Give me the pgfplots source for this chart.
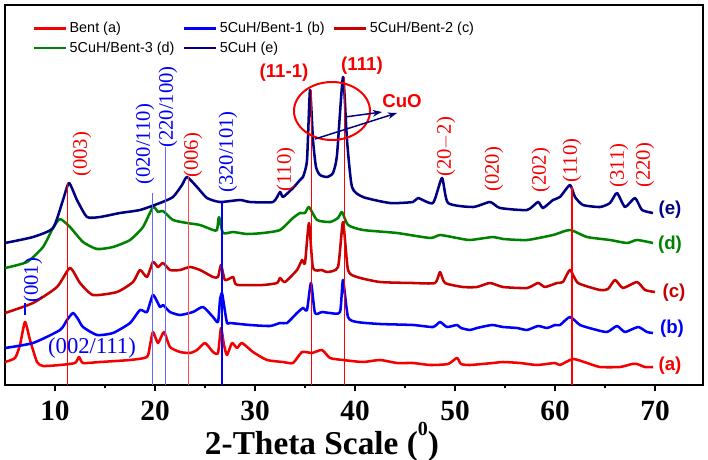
\documentclass[border=0pt]{standalone}
\usepackage{fontspec}
\setmainfont{Liberation Serif}
\newfontfamily\arial{Liberation Sans}
\usepackage{pgfplots}
\pgfplotsset{compat=1.18}
\usetikzlibrary{arrows.meta}

\definecolor{cA}{RGB}{245,0,0}
\definecolor{cB}{RGB}{0,0,250}
\definecolor{cC}{RGB}{200,0,0}
\definecolor{cD}{RGB}{0,130,0}
\definecolor{cE}{RGB}{0,0,130}
\definecolor{lblRed}{RGB}{245,0,0}
\definecolor{lblBlue}{RGB}{0,0,245}

\begin{document}
\begin{tikzpicture}
\useasboundingbox (0,0) rectangle (531pt,345pt);
\begin{axis}[
  at={(3.75pt,56.25pt)}, anchor=south west,
  scale only axis, width=523.5pt, height=285pt,
  xmin=5, xmax=74.8, ymin=0, ymax=380,
  clip=false,
  axis line style={line width=1.8pt},
  xtick={10,20,...,70}, minor x tick num=1,
  xtick pos=bottom, tick align=outside,
  ytick=\empty,
  major tick length=4.5pt, minor tick length=2.5pt,
  every tick/.style={black, line width=1.5pt},
  /pgf/number format/assume math mode=true,
  xticklabel style={font=\fontsize{22}{24}\selectfont\bfseries, yshift=-4pt},
  legend columns=3,
  legend cell align=left,
  legend style={draw=none, fill=none, at={(0.033,0.970)}, anchor=north west,
    font=\arial\fontsize{10.8}{12}\selectfont,
    /tikz/every even column/.append style={column sep=4pt},
    row sep=1.5pt},
  legend image code/.code={\draw[#1, line width=2pt] (0pt,0pt) -- (24pt,0pt);},
  every axis plot/.append style={line width=1.9pt, line join=round, smooth, tension=0.35},
]

% Bent (a)
\addplot[cA] coordinates {
(5.0,23) (6.0,27) (6.5,40) (7.0,63) (7.5,45) (8.2,23) (8.8,19) (10.5,20)
(12.0,22) (12.4,28) (12.8,22) (14.5,23) (17.5,25) (19.2,28) (19.5,40)
(19.8,53) (20.3,42) (20.9,53) (21.5,38) (22.5,33) (23.5,32) (24.2,35)
(25.0,42) (25.8,33) (26.3,32) (26.6,57) (26.9,40) (27.2,30) (27.7,42)
(28.2,37) (28.7,42) (29.8,33) (31.2,25) (32.8,23) (33.8,22) (34.7,33)
(35.7,32) (36.7,35) (37.5,27) (38.8,25) (40.8,23) (42.5,25) (44.2,22)
(45.8,22) (47.5,20) (49.3,21) (50.2,27) (50.6,21) (51.5,20) (53.8,22)
(54.8,23) (56.5,22) (58.2,20) (60.0,22) (60.5,20) (61.8,26) (63.2,22)
(64.5,18) (66.5,18) (67.7,21) (68.2,21) (69.0,18) (69.8,18)
};
\addlegendentry{Bent (a)}

% 5CuH/Bent-1 (b)
\addplot[cB] coordinates {
(5.0,37) (7.8,42) (10.5,55) (11.2,65) (11.8,72) (12.3,66) (12.8,58)
(14.2,50) (15.8,52) (17.5,62) (18.5,75) (19.2,73) (19.8,90) (20.5,78)
(20.8,80) (21.5,73) (22.5,70) (23.8,73) (24.8,78) (25.8,68) (26.3,63)
(26.5,85) (26.7,92) (26.9,80) (27.2,62) (27.5,62) (29.5,60) (31.5,59)
(32.5,62) (33.2,62) (34.2,72) (34.8,77) (35.2,75) (35.6,102) (36.0,72)
(36.7,73) (37.5,72) (38.5,73) (38.8,105) (39.3,68) (40.2,63) (42.5,61)
(45.8,60) (47.8,58) (48.5,63) (49.2,58) (50.2,60) (50.6,57) (51.5,55)
(52.2,57) (53.7,60) (54.8,58) (56.2,57) (57.2,55) (58.3,59) (59.2,57)
(60.0,60) (60.5,60) (61.5,68) (62.5,60) (63.8,56) (65.2,53) (66.2,59)
(67.0,53) (68.3,58) (69.2,53) (69.8,52)
};
\addlegendentry{5CuH/Bent-1 (b)}

% 5CuH/Bent-2 (c)
\addplot[cC] coordinates {
(5.0,72) (7.8,82) (10.2,98) (11.5,117) (12.5,102) (13.8,90) (16.2,93)
(17.8,103) (18.5,115) (19.2,108) (19.8,123) (20.3,118) (20.8,122)
(21.5,115) (22.5,115) (23.5,118) (24.5,115) (25.8,108) (26.3,108)
(26.6,120) (27.0,105) (27.8,108) (28.0,102) (28.3,100) (30.8,100)
(32.2,102) (32.5,107) (33.0,103) (34.2,115) (34.7,125) (35.0,122)
(35.4,162) (35.8,117) (36.7,115) (37.2,113) (38.3,118) (38.8,163)
(39.3,115) (40.2,108) (42.5,103) (45.8,102) (48.0,102) (48.5,113)
(49.0,102) (50.8,98) (52.2,98) (53.5,102) (54.8,98) (57.2,97) (58.3,102)
(59.0,98) (60.2,102) (60.8,103) (61.5,115) (62.3,102) (64.5,95)
(65.3,96) (66.0,105) (66.8,97) (68.2,103) (69.0,95) (70.0,93)
};
\addlegendentry{5CuH/Bent-2 (c)}

% 5CuH/Bent-3 (d)
\addplot[cD] coordinates {
(5.0,117) (7.2,123) (8.8,138) (9.8,157) (10.5,166) (11.5,158) (12.8,143)
(14.2,136) (15.8,138) (17.5,145) (18.8,158) (19.8,178) (20.3,173)
(20.8,174) (21.8,165) (23.2,162) (24.5,160) (25.8,155) (26.2,155)
(26.4,168) (26.8,152) (27.8,153) (29.2,151) (30.8,152) (32.5,155)
(33.8,167) (34.5,172) (35.0,172) (35.4,178) (36.2,165) (37.5,163)
(38.3,167) (38.7,173) (39.3,160) (40.8,155) (44.2,152) (47.5,147)
(48.5,150) (50.2,147) (51.5,145) (53.8,148) (54.8,146) (57.2,145)
(59.8,150) (61.5,155) (63.2,148) (65.5,145) (67.2,142) (68.2,145)
(69.8,142)
};
\addlegendentry{5CuH/Bent-3 (d)}

% 5CuH (e)
\addplot[cE] coordinates {
(5.0,142) (7.8,148) (9.8,157) (10.8,185) (11.4,202) (12.2,185) (13.2,168)
(14.5,168) (16.5,172) (18.5,175) (20.5,182) (21.8,188) (22.7,200)
(23.2,208) (24.2,198) (25.2,187) (26.5,183) (28.5,185) (29.5,183)
(31.8,183) (32.5,193) (32.8,188) (33.8,197) (34.5,205) (34.8,208)
(35.2,225) (35.5,295) (35.8,245) (36.1,218) (36.5,210) (37.2,208)
(37.8,212) (38.2,230) (38.8,308) (39.2,245) (39.7,198) (40.8,188)
(43.5,182) (45.8,183) (46.3,187) (47.8,182) (48.7,207) (49.3,182)
(51.8,178) (53.5,183) (54.5,177) (57.2,175) (58.3,183) (58.8,177)
(59.8,185) (60.5,188) (61.5,200) (62.0,188) (62.8,180) (64.5,178)
(65.5,182) (66.2,192) (67.0,178) (68.0,187) (68.7,175) (69.8,172)
};
\addlegendentry{5CuH (e)}

% reflection markers
\begin{scope}[every axis plot/.append style={sharp plot}]
\addplot[red, line width=0.6pt, forget plot] coordinates {(11.2,0) (11.2,202)};
\addplot[red!70, line width=0.6pt, forget plot] coordinates {(23.3,0) (23.3,208)};
\addplot[red, line width=0.6pt, forget plot] coordinates {(35.6,0) (35.6,295)};
\addplot[red, line width=0.6pt, forget plot] coordinates {(38.9,0) (38.9,308)};
\addplot[red, line width=1pt, forget plot] coordinates {(61.7,0) (61.7,198)};
\addplot[blue!60, line width=0.6pt, forget plot] coordinates {(19.7,0) (19.7,192)};
\addplot[blue!60, line width=0.6pt, forget plot] coordinates {(21.0,0) (21.0,238)};
\addplot[blue, line width=1.3pt, forget plot] coordinates {(26.7,0) (26.7,183)};
\addplot[blue, line width=1.3pt, forget plot] coordinates {(7.0,70) (7.0,82)};
\end{scope}

% Miller indices
\begin{scope}[every node/.style={rotate=90, anchor=west, inner sep=0pt, font=\fontsize{15.5}{17}\selectfont}]
\node[text=lblRed]  at (axis cs:12.7,208) {(003)};
\node[text=lblBlue] at (axis cs:19.0,200) {(020/110)};
\node[text=lblBlue] at (axis cs:21.3,237) {(220/100)};
\node[text=lblRed]  at (axis cs:23.8,207) {(006)};
\node[text=lblBlue] at (axis cs:27.3,192) {(320/101)};
\node[text=lblRed]  at (axis cs:33.1,193) {(110)};
\node[text=lblRed]  at (axis cs:49.1,208) {(20$-$2)};
\node[text=lblRed]  at (axis cs:53.9,193) {(020)};
\node[text=lblRed]  at (axis cs:58.6,192) {(202)};
\node[text=lblRed]  at (axis cs:61.7,202) {(110)};
\node[text=lblRed]  at (axis cs:66.4,197) {(311)};
\node[text=lblRed]  at (axis cs:69.0,197) {(220)};
\node[text=lblBlue] at (axis cs:7.8,82) {(001)};
\end{scope}
\node[text=lblBlue, font=\fontsize{17}{19}\selectfont] at (axis cs:13.7,37) {(002/111)};

% CuO peaks
\node[text=lblRed, font=\arial\fontsize{14}{16}\selectfont\bfseries] at (axis cs:32.9,312) {(11-1)};
\node[text=lblRed, font=\arial\fontsize{14}{16}\selectfont\bfseries] at (axis cs:40.7,319) {(111)};
\node[text=lblRed, font=\arial\fontsize{14}{16}\selectfont\bfseries] at (axis cs:44.7,284) {CuO};
\draw[lblRed, line width=1.5pt] (axis cs:37.7,274) ellipse [x radius=28.5pt, y radius=21.75pt];
\draw[cE, line width=1.1pt, -{Stealth[length=7pt,width=5pt]}] (axis cs:39.0,268) -- (axis cs:42.7,273);
\draw[cE, line width=1.1pt, -{Stealth[length=7pt,width=5pt]}] (axis cs:36.0,246) -- (axis cs:44.2,272);

% sample labels
\begin{scope}[every node/.style={font=\arial\fontsize{14}{16}\selectfont\bfseries, inner sep=0pt}]
\node[text=cE] at (axis cs:71.5,175) {(e)};
\node[text=cD] at (axis cs:71.5,140) {(d)};
\node[text=cC] at (axis cs:71.9,92) {(c)};
\node[text=cB] at (axis cs:71.7,56) {(b)};
\node[text=cA] at (axis cs:71.5,19) {(a)};
\end{scope}

% axis title
\node[font=\fontsize{25}{27}\selectfont\bfseries] at (axis cs:36.7,-57) {2-Theta Scale (\raisebox{0.55em}{\fontsize{15}{16}\selectfont 0})};
\end{axis}
\end{tikzpicture}
\end{document}
